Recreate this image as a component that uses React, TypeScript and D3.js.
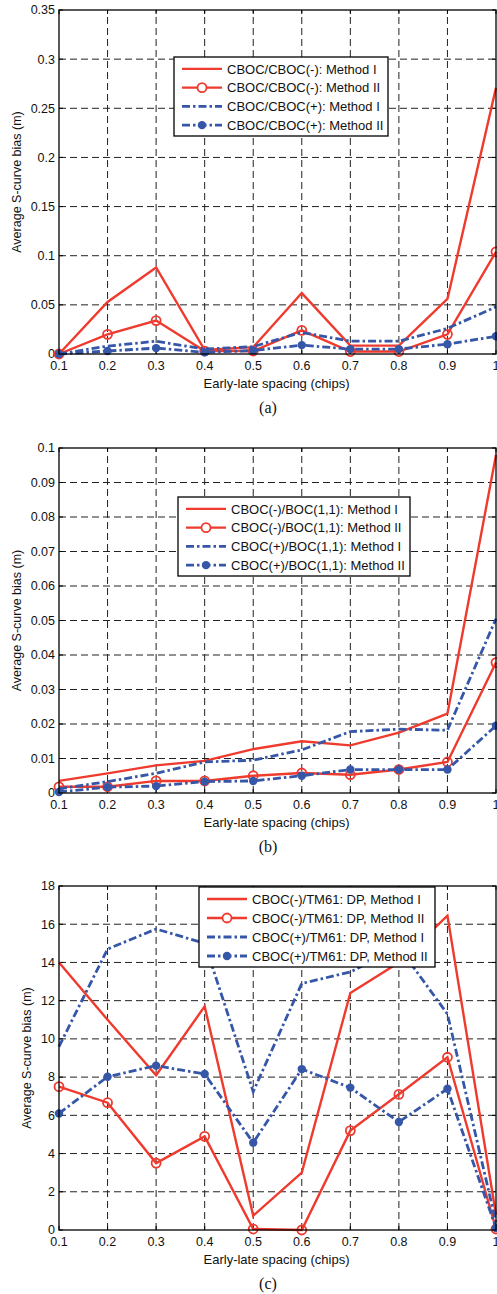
import React from "react";
import * as d3 from "d3";

const spacing = [0.1, 0.2, 0.3, 0.4, 0.5, 0.6, 0.7, 0.8, 0.9, 1.0];
const xTickLabels = ["0.1", "0.2", "0.3", "0.4", "0.5", "0.6", "0.7", "0.8", "0.9", "1"];

// Panel (a)
const aRedI = [0, 0.053, 0.088, 0.004, 0.007, 0.062, 0.0085, 0.0085, 0.056, 0.271];
const aRedII = [0, 0.02, 0.034, 0.003, 0.003, 0.024, 0.0025, 0.0025, 0.02, 0.104];
const aBlueI = [0, 0.008, 0.013, 0.005, 0.0075, 0.022, 0.013, 0.013, 0.026, 0.048];
const aBlueII = [0, 0.003, 0.006, 0.0017, 0.0035, 0.009, 0.005, 0.005, 0.01, 0.018];
const aYTicks = [0, 0.05, 0.1, 0.15, 0.2, 0.25, 0.3, 0.35];
const aLegend = ["CBOC/CBOC(-): Method I", "CBOC/CBOC(-): Method II", "CBOC/CBOC(+): Method I", "CBOC/CBOC(+): Method II"];

// Panel (b)
const bRedI = [0.0035, 0.0057, 0.008, 0.0093, 0.0127, 0.015, 0.0138, 0.0175, 0.023, 0.098];
const bRedII = [0.0018, 0.0018, 0.0035, 0.0035, 0.005, 0.0058, 0.0053, 0.0068, 0.009, 0.0378];
const bBlueI = [0.0012, 0.0033, 0.0057, 0.009, 0.0095, 0.0125, 0.0178, 0.0185, 0.0182, 0.0505];
const bBlueII = [0.0003, 0.0017, 0.002, 0.0033, 0.0035, 0.005, 0.0068, 0.0068, 0.0068, 0.0195];
const bYTicks = [0, 0.01, 0.02, 0.03, 0.04, 0.05, 0.06, 0.07, 0.08, 0.09, 0.1];
const bLegend = ["CBOC(-)/BOC(1,1): Method I", "CBOC(-)/BOC(1,1): Method II", "CBOC(+)/BOC(1,1): Method I", "CBOC(+)/BOC(1,1): Method II"];

// Panel (c)
const cRedI = [14.0, 11.0, 8.1, 11.7, 0.75, 3.0, 12.4, 14.0, 16.45, 0.8];
const cRedII = [7.5, 6.66, 3.5, 4.9, 0.05, 0.0, 5.2, 7.1, 9.04, 0.05];
const cBlueI = [9.6, 14.7, 15.75, 15.0, 7.24, 12.9, 13.5, 14.8, 11.3, 0.4];
const cBlueII = [6.1, 8.02, 8.6, 8.16, 4.57, 8.42, 7.45, 5.65, 7.39, 0.1];
const cYTicks = [0, 2, 4, 6, 8, 10, 12, 14, 16, 18];
const cLegend = ["CBOC(-)/TM61: DP, Method I", "CBOC(-)/TM61: DP, Method II", "CBOC(+)/TM61: DP, Method I", "CBOC(+)/TM61: DP, Method II"];

const RED = "#ef3a2e";
const BLUE = "#3656a8";
const SANS = "'Liberation Sans', Arial, Helvetica, sans-serif";
const SERIF = "'Liberation Serif', 'Times New Roman', serif";

type PanelProps = {
  top: number;
  bottom: number;
  yMax: number;
  yTicks: number[];
  series: number[][];
  legend: string[];
  legendBox: { x: number; y: number; w: number; h: number };
  legendFont: number;
  caption: string;
  captionY: number;
  yLabelX: number;
};

const LEFT = 59;
const RIGHT = 496;

function Panel(p: PanelProps) {
  const x = d3.scaleLinear().domain([0.1, 1]).range([LEFT, RIGHT]);
  const y = d3.scaleLinear().domain([0, p.yMax]).range([p.bottom, p.top]);
  const line = d3
    .line<number>()
    .x((_, i) => x(spacing[i]))
    .y((d) => y(d));
  const styles = [
    { color: RED, dash: undefined as string | undefined, width: 2.4, marker: "none" },
    { color: RED, dash: undefined as string | undefined, width: 2.4, marker: "open" },
    { color: BLUE, dash: "8,3,2.5,3", width: 2.8, marker: "none" },
    { color: BLUE, dash: "8,3,2.5,3", width: 2.8, marker: "filled" },
  ];
  const clipId = `clip-${p.caption.replace(/[()]/g, "")}`;
  const midY = (p.top + p.bottom) / 2;
  const lb = p.legendBox;
  const rowH = (lb.h - 4) / 4;
  return (
    <g>
      <defs>
        <clipPath id={clipId}>
          <rect x={LEFT - 6} y={p.top - 6} width={RIGHT - LEFT + 12} height={p.bottom - p.top + 12} />
        </clipPath>
      </defs>
      {/* grid */}
      {spacing.map((v, i) =>
        i > 0 && i < spacing.length - 1 ? (
          <line key={"gx" + i} x1={x(v)} x2={x(v)} y1={p.bottom} y2={p.top} stroke="#222" strokeWidth={1} strokeDasharray="7,4" />
        ) : null
      )}
      {p.yTicks.map((v, i) =>
        i > 0 && i < p.yTicks.length - 1 ? (
          <line key={"gy" + i} x1={LEFT} x2={RIGHT} y1={y(v)} y2={y(v)} stroke="#222" strokeWidth={1} strokeDasharray="7,4" />
        ) : null
      )}
      {/* ticks */}
      {spacing.map((v, i) => (
        <g key={"tx" + i}>
          <line x1={x(v)} x2={x(v)} y1={p.bottom} y2={p.bottom - 4} stroke="#000" />
          <line x1={x(v)} x2={x(v)} y1={p.top} y2={p.top + 4} stroke="#000" />
          <text x={x(v)} y={p.bottom + 16} textAnchor="middle" fontFamily={SANS} fontSize={12.5} fill="#111">
            {xTickLabels[i]}
          </text>
        </g>
      ))}
      {p.yTicks.map((v, i) => (
        <g key={"ty" + i}>
          <line x1={LEFT} x2={LEFT + 4} y1={y(v)} y2={y(v)} stroke="#000" />
          <line x1={RIGHT} x2={RIGHT - 4} y1={y(v)} y2={y(v)} stroke="#000" />
          <text x={LEFT - 4} y={y(v)} dy="0.35em" textAnchor="end" fontFamily={SANS} fontSize={12.5} fill="#111">
            {String(+v.toFixed(3))}
          </text>
        </g>
      ))}
      {/* series */}
      <g clipPath={`url(#${clipId})`}>
        {p.series.map((s, k) => (
          <g key={"s" + k}>
            <path d={line(s) || ""} fill="none" stroke={styles[k].color} strokeWidth={styles[k].width} strokeDasharray={styles[k].dash} strokeLinejoin="miter" />
            {styles[k].marker === "open" &&
              s.map((v, i) => (
                <circle key={i} cx={x(spacing[i])} cy={y(v)} r={4.5} fill="none" stroke={RED} strokeWidth={1.8} />
              ))}
            {styles[k].marker === "filled" &&
              s.map((v, i) => <circle key={i} cx={x(spacing[i])} cy={y(v)} r={4.2} fill={BLUE} />)}
          </g>
        ))}
      </g>
      {/* axes box */}
      <rect x={LEFT} y={p.top} width={RIGHT - LEFT} height={p.bottom - p.top} fill="none" stroke="#000" strokeWidth={1.3} />
      {/* legend */}
      <rect x={lb.x} y={lb.y} width={lb.w} height={lb.h} fill="#fff" stroke="#000" strokeWidth={1.3} />
      {p.legend.map((t, k) => {
        const cy = lb.y + 2 + rowH * (k + 0.5) + 0.5;
        return (
          <g key={"lg" + k}>
            <line x1={lb.x + 8} x2={lb.x + 48} y1={cy} y2={cy} stroke={styles[k].color} strokeWidth={styles[k].width} strokeDasharray={styles[k].dash} />
            {styles[k].marker === "open" && <circle cx={lb.x + 28} cy={cy} r={4.5} fill="#fff" stroke={RED} strokeWidth={1.8} />}
            {styles[k].marker === "filled" && <circle cx={lb.x + 28} cy={cy} r={4.2} fill={BLUE} />}
            <text x={lb.x + 53} y={cy} dy="0.36em" fontFamily={SANS} fontSize={p.legendFont} fill="#111">
              {t}
            </text>
          </g>
        );
      })}
      {/* labels */}
      <text x={(LEFT + RIGHT) / 2 - 1} y={p.bottom + 34} textAnchor="middle" fontFamily={SANS} fontSize={13} fill="#111">
        Early-late spacing (chips)
      </text>
      <text transform={`translate(${p.yLabelX},${midY}) rotate(-90)`} textAnchor="middle" fontFamily={SANS} fontSize={12.5} fill="#111">
        Average S-curve bias (m)
      </text>
      <text x={268} y={p.captionY} textAnchor="middle" fontFamily={SERIF} fontSize={16} fill="#111">
        {p.caption}
      </text>
    </g>
  );
}

export default function App() {
  return (
    <svg width={497} height={1294} style={{ position: "absolute", left: 0, top: 0, background: "#fff" }}>
      <rect x={0} y={0} width={497} height={1294} fill="#fff" />
      <Panel
        top={10}
        bottom={354}
        yMax={0.35}
        yTicks={aYTicks}
        series={[aRedI, aRedII, aBlueI, aBlueII]}
        legend={aLegend}
        legendBox={{ x: 174, y: 57, w: 214, h: 79 }}
        legendFont={13}
        caption="(a)"
        captionY={413}
        yLabelX={21}
      />
      <Panel
        top={448}
        bottom={793}
        yMax={0.1}
        yTicks={bYTicks}
        series={[bRedI, bRedII, bBlueI, bBlueII]}
        legend={bLegend}
        legendBox={{ x: 178, y: 497, w: 232, h: 79 }}
        legendFont={13}
        caption="(b)"
        captionY={852}
        yLabelX={21}
      />
      <Panel
        top={886}
        bottom={1230}
        yMax={18}
        yTicks={cYTicks}
        series={[cRedI, cRedII, cBlueI, cBlueII]}
        legend={cLegend}
        legendBox={{ x: 199, y: 887, w: 236, h: 80 }}
        legendFont={13}
        caption="(c)"
        captionY={1289}
        yLabelX={31}
      />
    </svg>
  );
}
